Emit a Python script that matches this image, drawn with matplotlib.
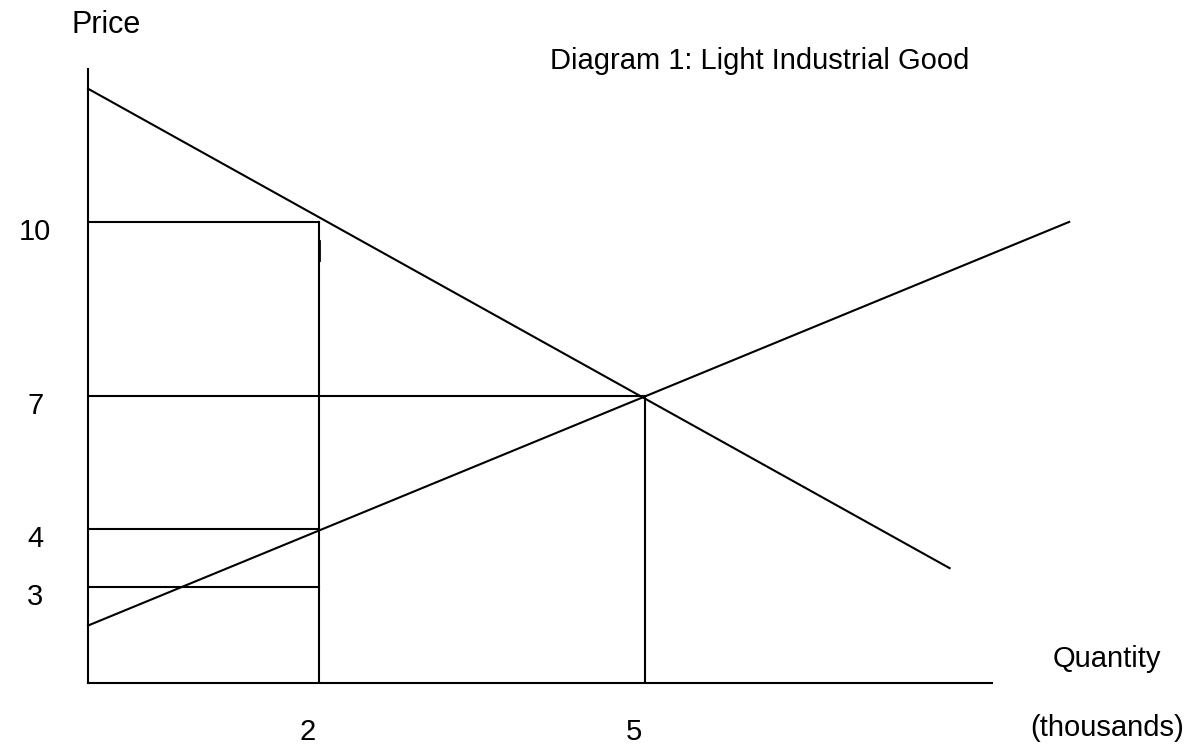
import numpy as np
import matplotlib.pyplot as plt
from matplotlib.transforms import ScaledTranslation

# diagram values (quantity in thousands, price)
quantity_ticks = [2, 5]
price_ticks = [3, 4, 7, 10]

supply_q = [0, 8.9]
supply_p = [1.8, 10.0]
demand_q = [0, 7.8]
demand_p = [12.3, 3.33]

equil_q = 5
equil_p = 7
quota_q = 2
quota_prices = [3, 4]      # lines from the axis to q=2
demand_price_at_quota = 10
stub_p = [9.34, 9.67]      # doubled bit of the q=2 line

plt.rcParams['font.family'] = ['Liberation Sans', 'DejaVu Sans']

# the hand-drawn axes are not to scale: piecewise mapping of values to position
x_anchor = [-10, 0, 2, 5, 20]
x_pos = [-1153, 0, 230.7, 557, 2188.5]
y_anchor = [-10, 0, 3, 4, 7, 10, 30]
y_pos = [-319, 0, 95.7, 153.7, 287.3, 461, 1619]


def fwd_x(v):
    return np.interp(v, x_anchor, x_pos)


def inv_x(v):
    return np.interp(v, x_pos, x_anchor)


def fwd_y(v):
    return np.interp(v, y_anchor, y_pos)


def inv_y(v):
    return np.interp(v, y_pos, y_anchor)


fig = plt.figure(figsize=(12, 7.5), dpi=100)
ax = fig.add_axes([88 / 1200, 67 / 750, (992 - 88) / 1200, (683 - 69) / 750])
ax.set_xscale('function', functions=(fwd_x, inv_x))
ax.set_yscale('function', functions=(fwd_y, inv_y))
ax.set_xlim(0, 8.19)
ax.set_ylim(0, 12.64)

lw = 1.5
for s in ['top', 'right']:
    ax.spines[s].set_visible(False)
for s in ['left', 'bottom']:
    ax.spines[s].set_linewidth(lw)

# supply and demand
ax.plot(supply_q, supply_p, color='black', lw=lw, clip_on=False)
ax.plot(demand_q, demand_p, color='black', lw=lw, clip_on=False)

# equilibrium
ax.plot([0, equil_q], [equil_p, equil_p], color='black', lw=lw)
ax.plot([equil_q, equil_q], [0, equil_p], color='black', lw=lw)

# quota box
ax.plot([0, quota_q], [demand_price_at_quota, demand_price_at_quota], color='black', lw=lw)
ax.plot([quota_q, quota_q], [0, demand_price_at_quota], color='black', lw=lw)
ax.plot([quota_q, quota_q], stub_p, color='black', lw=2.0)
for p in quota_prices:
    ax.plot([0, quota_q], [p, p], color='black', lw=lw)

ax.set_xticks(quantity_ticks)
ax.set_xticklabels([str(v) for v in quantity_ticks])
ax.set_yticks(price_ticks)
ax.set_yticklabels([str(v) for v in price_ticks])
ax.tick_params(axis='both', length=0, labelsize=21)
ax.tick_params(axis='x', pad=25)
ax.tick_params(axis='y', pad=38)

dx = ScaledTranslation(-8 / 72, 0, fig.dpi_scale_trans)
for lab in ax.get_xticklabels():
    lab.set_transform(lab.get_transform() + dx)
dy = ScaledTranslation(0, -5 / 72, fig.dpi_scale_trans)
for lab in ax.get_yticklabels():
    lab.set_horizontalalignment('center')
    lab.set_transform(lab.get_transform() + dy)

fig.text(72 / 1200, 1 - 33 / 750, 'Price', fontsize=22, va='baseline', ha='left')
fig.text(760 / 1200, 1 - 69 / 750, 'Diagram 1: Light Industrial Good', fontsize=21,
         va='baseline', ha='center')
fig.text(1107 / 1200, 1 - 667 / 750, 'Quantity', fontsize=21, va='baseline', ha='center')
fig.text(1107 / 1200, 1 - 736 / 750, '(thousands)', fontsize=21, va='baseline', ha='center')

fig.savefig('out.png', dpi=100, facecolor='white')
